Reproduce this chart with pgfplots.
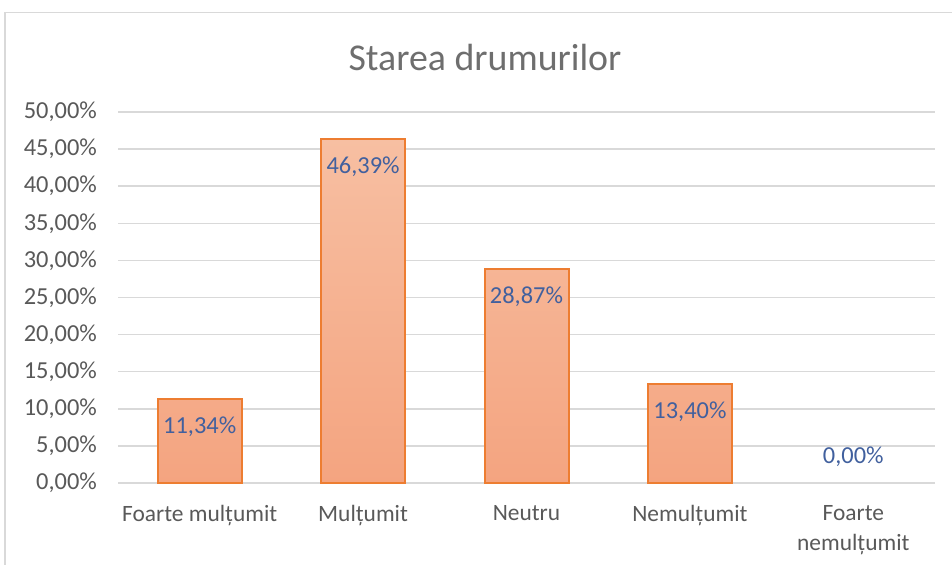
\documentclass[border=0pt]{standalone}
\usepackage{fontspec}
\setmainfont{Carlito}
\usepackage{pgfplots}
\pgfplotsset{compat=1.18}
\definecolor{gridc}{HTML}{D9D9D9}
\definecolor{txt}{HTML}{595959}
\definecolor{ttl}{HTML}{6E6E6E}
\definecolor{lab}{HTML}{41609E}
\definecolor{barline}{HTML}{ED7D31}
\definecolor{bartop}{HTML}{F7BFA2}
\definecolor{barbot}{HTML}{F4A480}
\newcommand{\lblfont}{\fontsize{23.5}{30.5}\selectfont}
\newcommand{\numfont}{\fontsize{24.5}{30}\selectfont}
\begin{document}
\begin{tikzpicture}[x=1bp,y=1bp]
\path[use as bounding box] (0,0) rectangle (952,565);
\draw[gridc, line width=1.5bp] (5,0) -- (5,552.5) -- (952,552.5);
\node[ttl, font=\fontsize{38}{45}\selectfont] at (485,507) {Starea drumurilor};
\begin{axis}[
  at={(118bp,82bp)}, anchor=south west,
  scale only axis, width=817bp, height=371bp,
  xmin=-0.5, xmax=4.5, ymin=0, ymax=50,
  ytick={0,5,...,50}, xtick={0,1,2,3,4},
  xticklabels={Foarte mulțumit, Mulțumit, Neutru, Nemulțumit, {Foarte\\nemulțumit}},
  yticklabel={\pgfmathprintnumber[fixed,fixed zerofill,precision=2,use comma,assume math mode=true]{\tick}\%},
  axis line style={draw=none},
  major tick length=0pt, tick style={draw=none},
  ymajorgrids, grid style={gridc, line width=1.5bp},
  yticklabel style={font=\numfont, text=txt, anchor=east, inner sep=0pt, xshift=-21bp},
  xticklabel style={font=\lblfont, text=txt, anchor=north, inner sep=0pt, yshift=-22bp, align=center},
  clip=false,
]
\addplot[ybar, bar width=84bp, bar shift=0pt, draw=barline, line width=2bp,
  top color=bartop, bottom color=barbot,
  nodes near coords={\pgfmathprintnumber[fixed,fixed zerofill,precision=2,use comma,assume math mode=true]{\pgfplotspointmeta}\%},
  every node near coord/.append style={anchor=center, yshift=-28bp, font=\numfont, text=lab, inner sep=0pt}]
  coordinates {(0,11.34) (1,46.39) (2,28.87) (3,13.40)};
\addplot[ybar, bar width=84bp, bar shift=0pt, draw=none, fill=none,
  nodes near coords={\pgfmathprintnumber[fixed,fixed zerofill,precision=2,use comma,assume math mode=true]{\pgfplotspointmeta}\%},
  every node near coord/.append style={anchor=center, yshift=26bp, font=\numfont, text=lab, inner sep=0pt}]
  coordinates {(4,0)};
\end{axis}
\end{tikzpicture}
\end{document}
